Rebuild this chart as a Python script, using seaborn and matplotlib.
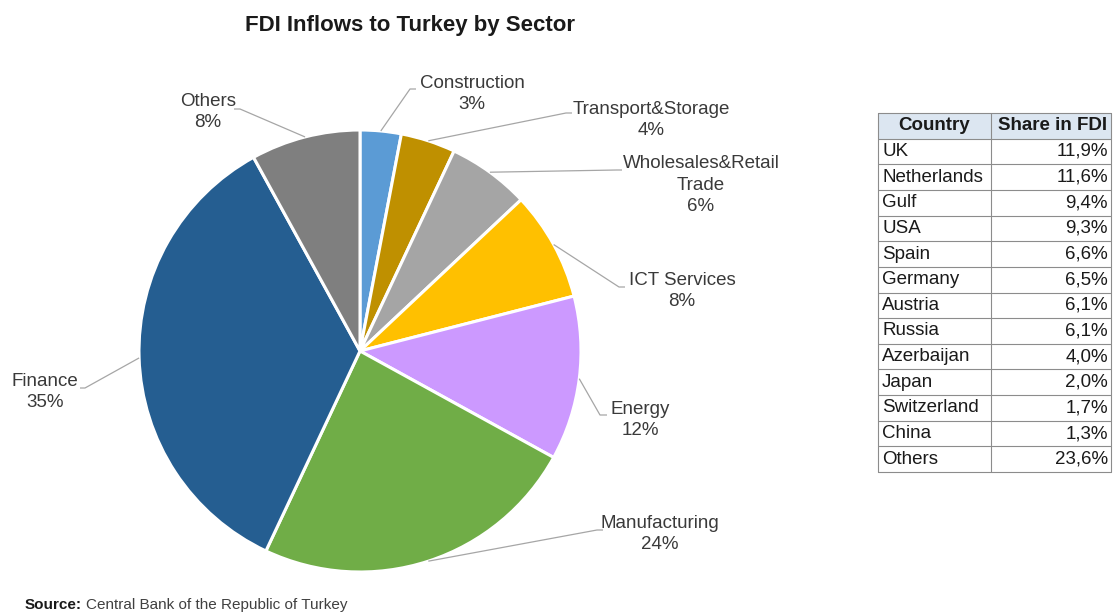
import matplotlib
matplotlib.use("Agg")
import matplotlib.pyplot as plt
from matplotlib.patches import Rectangle
import numpy as np
import seaborn as sns

# Sector breakdown of FDI inflows (%)
sectors = ["Construction", "Transport&Storage", "Wholesales&Retail\nTrade", "ICT Services",
           "Energy", "Manufacturing", "Finance", "Others"]
sector_share = [3, 4, 6, 8, 12, 24, 35, 8]
sector_colors = ["#5b9bd5", "#bf9000", "#a5a5a5", "#ffc000",
                 "#cc99ff", "#70ad47", "#255e91", "#7f7f7f"]

# Country breakdown (share in FDI, %)
countries = ["UK", "Netherlands", "Gulf", "USA", "Spain", "Germany", "Austria",
             "Russia", "Azerbaijan", "Japan", "Switzerland", "China", "Others"]
country_share = [11.9, 11.6, 9.4, 9.3, 6.6, 6.5, 6.1, 6.1, 4.0, 2.0, 1.7, 1.3, 23.6]

sns.set_theme(style="white")
plt.rcParams["font.family"] = ["Liberation Sans", "DejaVu Sans"]

W, H = 1113, 613
fig = plt.figure(figsize=(W / 100, H / 100), dpi=100)
ax = fig.add_axes([0, 0, 1, 1])

palette = sns.color_palette(sector_colors)
center = (360, 351)
radius = 221
wedges, _ = ax.pie(sector_share, colors=palette, startangle=-90, counterclock=True,
                   center=center, radius=radius, frame=True,
                   wedgeprops=dict(edgecolor="white", linewidth=2.2))
ax.set_xlim(0, W)
ax.set_ylim(H, 0)
ax.set_aspect("equal")
ax.axis("off")

# label text centre, leader elbow, end of short horizontal tail
label_layout = [
    ((472, 94), (410, 89), (416, 89)),
    ((651, 120), (566, 113), (572, 113)),
    ((701, 185), (617, 170), (622, 170)),
    ((682, 291), (619, 287), (625, 287)),
    ((640, 420), (600, 415), (607, 415)),
    ((660, 534), (597, 530), (603, 530)),
    ((45, 392), (85, 388), (80, 388)),
    ((208, 112), (240, 109), (234, 109)),
]

text_color = "#3a3a3a"
line_color = "#a6a6a6"
for w, name, val, (txy, elbow, tail) in zip(wedges, sectors, sector_share, label_layout):
    mid = np.deg2rad((w.theta1 + w.theta2) / 2)
    px = w.center[0] + w.r * np.cos(mid)
    py = w.center[1] + w.r * np.sin(mid)
    ax.plot([px, elbow[0], tail[0]], [py, elbow[1], tail[1]], color=line_color, lw=0.9,
            solid_capstyle="butt", zorder=1)
    ax.text(txy[0], txy[1], f"{name}\n{val}%", ha="center", va="center", fontsize=13.5,
            color=text_color, linespacing=1.32)

ax.text(410, 25, "FDI Inflows to Turkey by Sector", ha="center", va="center",
        fontsize=16, fontweight="bold", color="#1a1a1a")

# Source note
src = ax.text(25, 605, "Source:", ha="left", va="center", fontsize=11, fontweight="bold",
              color="#1a1a1a")
fig.canvas.draw()
bb = src.get_window_extent()
ax.text(25 + bb.width + 4, 605, "Central Bank of the Republic of Turkey", ha="left",
        va="center", fontsize=11, color="#404040")

# Country table
x0, xs, x1 = 878, 991, 1111
y0 = 113
rh = (472 - 113) / (len(countries) + 1)
border = "#8c8c8c"
ax.add_patch(Rectangle((x0, y0), x1 - x0, rh, facecolor="#dce6f1", edgecolor="none"))
rows = [("Country", "Share in FDI")] + [
    (c, f"{s:.1f}%".replace(".", ",")) for c, s in zip(countries, country_share)]
for i, (c, s) in enumerate(rows):
    yc = y0 + (i + 0.5) * rh
    if i == 0:
        ax.text((x0 + xs) / 2, yc, c, ha="center", va="center", fontsize=13.5,
                fontweight="bold", color="#1a1a1a")
        ax.text((xs + x1) / 2 + 2, yc, s, ha="center", va="center", fontsize=13.5,
                fontweight="bold", color="#1a1a1a")
    else:
        ax.text(x0 + 4, yc, c, ha="left", va="center", fontsize=13.5, color="#1a1a1a")
        ax.text(x1 - 3, yc, s, ha="right", va="center", fontsize=13.5, color="#1a1a1a")
for i in range(len(rows) + 1):
    y = y0 + i * rh
    ax.plot([x0, x1], [y, y], color=border, lw=0.8)
for x in (x0, xs, x1):
    ax.plot([x, x], [y0, y0 + len(rows) * rh], color=border, lw=0.8)

fig.savefig("out.png", dpi=100)
